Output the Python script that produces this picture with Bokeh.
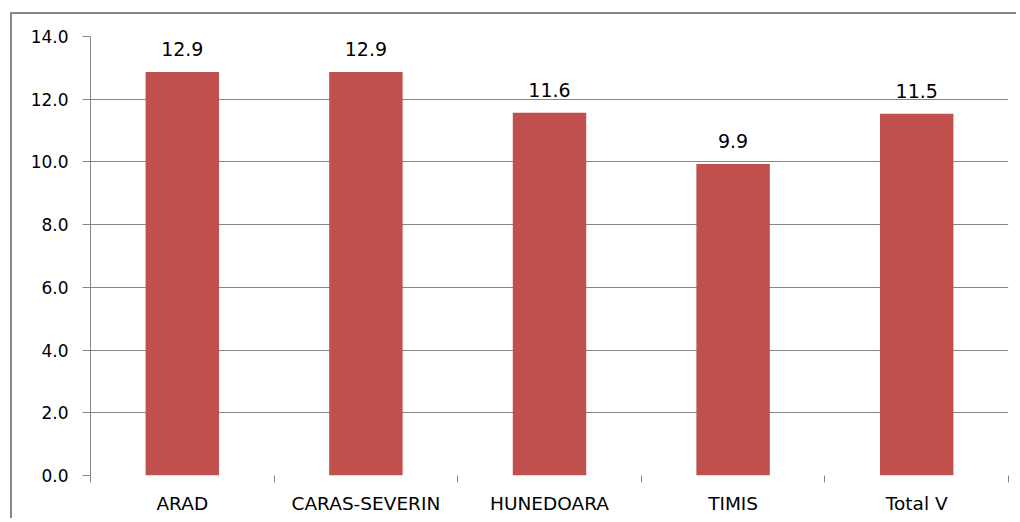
from bokeh.plotting import figure
from bokeh.models import ColumnDataSource, Range1d, FixedTicker, PrintfTickFormatter
from bokeh.core.properties import value
from bokeh.embed import file_html
from bokeh.resources import INLINE

categories = ["ARAD", "CARAS-SEVERIN", "HUNEDOARA", "TIMIS", "Total V"]
values = [12.87, 12.87, 11.57, 9.93, 11.54]
y_ticks = [0, 2, 4, 6, 8, 10, 12, 14]

xs = [i + 0.5 for i in range(len(categories))]
labels = [f"{v:.1f}" for v in values]
src = ColumnDataSource(dict(x=xs, top=values, label=labels))

FONT = "DejaVu Sans"
GRID = "#868686"

p = figure(width=1006, height=506, x_range=Range1d(0, len(categories)), y_range=Range1d(0, 14),
           min_border_left=78, min_border_right=10, min_border_top=22, min_border_bottom=45,
           output_backend="svg", toolbar_location=None)
p.outline_line_color = None
p.background_fill_color = "white"
p.border_fill_color = "white"
p.styles = {"border-left": f"2px solid {GRID}", "border-top": f"2px solid {GRID}",
            "margin-left": "10px", "margin-top": "12px"}

p.vbar(x="x", top="top", width=0.4, bottom=0, source=src, fill_color="#C0504D", line_color=None)
p.text(x="x", y="top", text="label", source=src, text_align="center", text_baseline="alphabetic",
       y_offset=-23, text_font=value(FONT), text_font_size="19px", text_color="#000000")

# y axis
p.yaxis.ticker = FixedTicker(ticks=y_ticks, minor_ticks=[])
p.yaxis.formatter = PrintfTickFormatter(format="%.1f")
p.yaxis.axis_line_color = GRID
p.yaxis.major_tick_line_color = GRID
p.yaxis.major_tick_out = 8
p.yaxis.major_tick_in = 0
p.yaxis.minor_tick_line_color = None
p.yaxis.major_label_standoff = 14
p.yaxis.major_label_text_font = FONT
p.yaxis.major_label_text_font_size = "17px"
p.yaxis.major_label_text_color = "#000000"

# x axis: labels at centres, ticks between categories
p.xaxis.ticker = FixedTicker(ticks=xs, minor_ticks=list(range(len(categories) + 1)))
p.xaxis.major_label_overrides = {x: c for x, c in zip(xs, categories)}
p.xaxis.axis_line_color = None
p.xaxis.major_tick_line_color = None
p.xaxis.major_tick_out = 0
p.xaxis.major_tick_in = 0
p.xaxis.minor_tick_line_color = GRID
p.xaxis.minor_tick_out = 7
p.xaxis.minor_tick_in = 0
p.xaxis.major_label_standoff = 10
p.xaxis.major_label_text_font = FONT
p.xaxis.major_label_text_font_size = "18.5px"
p.xaxis.major_label_text_color = "#000000"

p.xgrid.grid_line_color = None
p.ygrid.ticker = FixedTicker(ticks=y_ticks[1:], minor_ticks=[])
p.ygrid.grid_line_color = GRID
p.ygrid.grid_line_width = 1

open("out.html", "w").write(file_html(p, INLINE))
